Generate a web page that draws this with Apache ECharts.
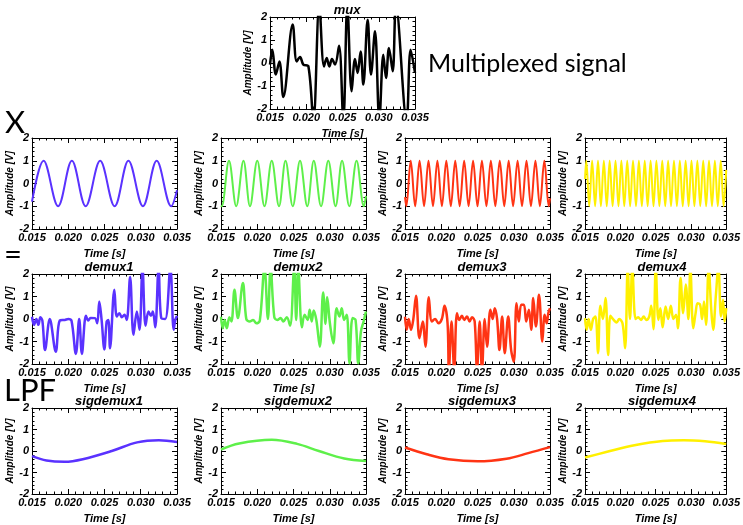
<!DOCTYPE html>
<html>
<head>
<meta charset="utf-8">
<script src="https://cdn.jsdelivr.net/npm/echarts@6/dist/echarts.min.js"></script>
<style>html,body{margin:0;background:#fff}#main{width:743px;height:525px}</style>
</head>
<body>
<div id="main"></div>
<script>
// --- data: [time (s), amplitude (V)] ---
var xTicks = ['0.015', '0.020', '0.025', '0.030', '0.035'];
var yTicks = ['-2', '-1', '0', '1', '2'];

var mux = [[0.015,-0.07],[0.01532,0.58],[0.0158,-0.5],[0.0163,0.07],[0.01684,-1.48],[0.01813,1.67],[0.01868,0.07],[0.01914,0.26],[0.0196,-0.07],[0.0203,-0.15],[0.02098,-2.5],[0.0218,2.5],[0.02245,-0.15],[0.02282,0.22],[0.02318,-0.15],[0.02355,0.17],[0.02397,-0.07],[0.02452,0.75],[0.02511,-2.5],[0.02567,2.5],[0.02626,-1.23],[0.02672,0.17],[0.02709,-0.43],[0.0275,0.5],[0.02787,-0.94],[0.02847,1.88],[0.02893,-0.5],[0.02948,1.38],[0.03008,-2.5],[0.03063,0.36],[0.031,-0.65],[0.03141,0.65],[0.03192,-0.36],[0.03238,2.5],[0.03384,-2.5],[0.0344,0.58],[0.035,-0.43]];

var car1 = [[0.015,-0.8],[0.0166,1],[0.0186,-1],[0.0205,1],[0.0224,-1],[0.0244,1],[0.0264,-1],[0.0283,1],[0.0303,-1],[0.0322,1],[0.0342,-1],[0.035,-0.3]];
var car2 = [[0.015,-0.97],[0.0151,-1],[0.0161,1],[0.0171,-1],[0.0181,1],[0.019,-1],[0.02,1],[0.021,-1],[0.022,1],[0.023,-1],[0.0239,1],[0.0249,-1],[0.0259,1],[0.0269,-1],[0.0278,1],[0.0288,-1],[0.0298,1],[0.0308,-1],[0.0317,1],[0.0327,-1],[0.0337,1],[0.0347,-1],[0.035,-0.55]];
var car3 = [[0.015,-0.6],[0.01518,-1],[0.01579,1],[0.0164,-1],[0.01701,1],[0.01763,-1],[0.01824,1],[0.01886,-1],[0.01947,1],[0.02009,-1],[0.0207,1],[0.02132,-1],[0.02193,1],[0.02254,-1],[0.02316,1],[0.02377,-1],[0.02439,1],[0.025,-1],[0.02561,1],[0.02623,-1],[0.02684,1],[0.02746,-1],[0.02807,1],[0.02869,-1],[0.0293,1],[0.02991,-1],[0.03053,1],[0.03114,-1],[0.03176,1],[0.03237,-1],[0.03299,1],[0.0336,-1],[0.03422,1],[0.03483,-1],[0.035,-0.65]];
var car4 = [[0.015,0.2],[0.01518,1],[0.0156,-1],[0.01601,1],[0.01643,-1],[0.01684,1],[0.01725,-1],[0.01767,1],[0.01808,-1],[0.01849,1],[0.01891,-1],[0.01932,1],[0.01974,-1],[0.02015,1],[0.02056,-1],[0.02098,1],[0.02139,-1],[0.0218,1],[0.02222,-1],[0.02263,1],[0.02305,-1],[0.02346,1],[0.02387,-1],[0.02429,1],[0.0247,-1],[0.02511,1],[0.02553,-1],[0.02594,1],[0.02636,-1],[0.02677,1],[0.02718,-1],[0.0276,1],[0.02801,-1],[0.02843,1],[0.02884,-1],[0.02925,1],[0.02967,-1],[0.03008,1],[0.03049,-1],[0.03091,1],[0.03132,-1],[0.03174,1],[0.03215,-1],[0.03256,1],[0.03298,-1],[0.03339,1],[0.0338,-1],[0.03422,1],[0.03463,-1],[0.035,0.6]];

var dem1 = [[0.015,0.1],[0.01528,-0.26],[0.0156,0],[0.01588,-0.26],[0.01615,0.08],[0.01643,-0.07],[0.0168,-1.38],[0.01745,0],[0.01828,-1.45],[0.01883,-0.07],[0.01953,-0.04],[0.02,0],[0.02045,-0.08],[0.02105,-1.55],[0.02151,0],[0.02188,-1.55],[0.02244,0.14],[0.02276,-0.07],[0.02308,0.05],[0.02368,0.04],[0.024,-0.19],[0.02428,0.78],[0.0246,-0.04],[0.02498,-1.35],[0.0253,-0.11],[0.02553,-0.04],[0.02576,-1.3],[0.02636,1.3],[0.02669,0.11],[0.02705,0.26],[0.02738,0.08],[0.02775,0.19],[0.02807,-0.04],[0.02853,1.87],[0.029,-0.7],[0.02946,0.33],[0.02983,-0.48],[0.03024,2.3],[0.03066,-0.3],[0.03107,0.33],[0.0314,0.14],[0.03167,0.33],[0.032,-0.37],[0.03246,2.3],[0.03283,0.04],[0.03338,0],[0.03408,2.3],[0.03454,-0.48],[0.03477,-0.04],[0.035,0.14]];
var dem2 = [[0.015,0.1],[0.01523,-0.41],[0.01551,-0.04],[0.0158,-0.41],[0.01616,0.08],[0.01644,-0.11],[0.01686,1.3],[0.01733,0.04],[0.01802,1.6],[0.01849,0],[0.01895,-0.11],[0.01942,-0.04],[0.01988,-0.19],[0.02035,-0.08],[0.021,2.3],[0.02147,0],[0.02184,2.3],[0.02235,0.08],[0.02277,-0.04],[0.02323,0.04],[0.0236,-0.11],[0.02407,0.08],[0.02453,-0.3],[0.02509,2.3],[0.02537,-0.04],[0.02565,2.3],[0.02616,-0.37],[0.02653,0.19],[0.02695,-0.04],[0.02723,0.41],[0.02751,-0.11],[0.02779,0.38],[0.02816,-0.07],[0.02863,-1.23],[0.02909,1.18],[0.02942,-0.22],[0.02965,0.97],[0.03002,-0.19],[0.03049,-1.08],[0.03095,0.48],[0.03133,0.11],[0.03165,0.48],[0.03198,-0.04],[0.03235,0.19],[0.03272,-1.97],[0.03314,0.04],[0.03356,-0.04],[0.03393,-1.97],[0.0343,-0.56],[0.03467,-0.11],[0.035,0.33]];
var dem3 = [[0.015,0.1],[0.01523,-0.48],[0.01551,0],[0.01583,-0.48],[0.01615,0],[0.01652,1.03],[0.01699,-0.85],[0.01745,-0.11],[0.01782,-1.23],[0.01828,0.97],[0.0187,-0.11],[0.01916,0],[0.01962,-0.19],[0.02008,0],[0.02045,0.59],[0.02087,-0.19],[0.02105,-2.3],[0.02142,-0.11],[0.02179,-2.3],[0.02216,0.26],[0.02248,-0.04],[0.02285,0.14],[0.02318,-0.04],[0.02355,0.11],[0.02391,-0.11],[0.02424,0.08],[0.02461,-0.11],[0.02493,-2.3],[0.0253,-0.11],[0.02562,-2.3],[0.02599,0],[0.02632,-1.23],[0.02678,0.41],[0.0271,0],[0.02738,0.48],[0.0277,0],[0.02803,-1.38],[0.0284,0.11],[0.02876,-1.52],[0.02923,0.11],[0.02964,-1.38],[0.03001,-1.9],[0.03038,0.7],[0.0307,-0.11],[0.03103,0.63],[0.0314,0.63],[0.03172,-0.11],[0.03209,0.41],[0.03241,-0.48],[0.03269,0.93],[0.03306,-0.33],[0.03348,1.08],[0.03394,-1.0],[0.03426,0.19],[0.03454,-0.19],[0.03477,0.26],[0.035,0.48]];
var dem4 = [[0.015,0.04],[0.01523,-0.48],[0.01551,0],[0.01583,-0.48],[0.01615,0],[0.01648,0.11],[0.01685,-1.52],[0.01717,0.59],[0.01754,0],[0.01791,0.93],[0.01828,-1.6],[0.0186,0.14],[0.01906,-0.04],[0.01948,-0.15],[0.01985,0],[0.02031,-0.19],[0.02068,-1.3],[0.02105,2.3],[0.02137,0],[0.0217,2.3],[0.02216,0],[0.02253,0.08],[0.02294,-0.04],[0.02331,0.11],[0.02368,-0.04],[0.0241,0.11],[0.02438,0.59],[0.0247,-0.45],[0.02502,2.3],[0.02539,-0.04],[0.02567,0.48],[0.02599,-0.37],[0.02641,0.56],[0.02678,0],[0.02715,0.59],[0.02752,0],[0.02789,0.19],[0.02816,-0.41],[0.02853,1.82],[0.0289,0.26],[0.02927,1.53],[0.02964,0],[0.02992,2.3],[0.03033,-0.41],[0.03066,0.26],[0.03094,0.7],[0.0313,0.63],[0.03158,0],[0.03186,0.78],[0.03214,-0.26],[0.03251,2.3],[0.03288,0.41],[0.03315,-0.48],[0.03352,1.0],[0.03389,2.3],[0.03426,0.11],[0.03454,0.86],[0.03477,-0.11],[0.035,0.48]];

var sig1 = [[0.015,-0.24],[0.017,-0.44],[0.0195,-0.5],[0.022,-0.38],[0.026,0],[0.0295,0.4],[0.0325,0.5],[0.035,0.42]];
var sig2 = [[0.015,0.07],[0.0175,0.35],[0.022,0.52],[0.0255,0.33],[0.0285,0],[0.032,-0.35],[0.035,-0.46]];
var sig3 = [[0.015,0.16],[0.018,-0.15],[0.021,-0.38],[0.025,-0.48],[0.029,-0.36],[0.032,-0.1],[0.035,0.18]];
var sig4 = [[0.015,-0.3],[0.018,-0.05],[0.022,0.27],[0.026,0.47],[0.029,0.5],[0.032,0.45],[0.035,0.33]];

var chart = echarts.init(document.getElementById('main'));

var F = '"Liberation Sans Narrow", "Liberation Sans", Arial, sans-serif';
var BIG = 'Lato, "Liberation Sans", sans-serif';
var lab = {fontFamily: F, fontSize: 11, fontWeight: 'bold', fontStyle: 'italic', color: '#000'};

var grids = [], xAxes = [], yAxes = [], series = [], titles = [];

function axisBase(g) {
    return {
        type: 'value', gridIndex: g,
        axisLine: {show: true, onZero: false, lineStyle: {color: '#000', width: 1}},
        axisTick: {show: true, inside: true, length: 5, lineStyle: {color: '#000'}},
        minorTick: {show: true, splitNumber: 5, length: 2.5, lineStyle: {color: '#000'}},
        splitLine: {show: false}
    };
}

function addPanel(left, top, height, name, data, color, lw) {
    var g = grids.length;
    grids.push({left: left, top: top, width: 145, height: height});
    var xb = axisBase(g);
    xb.position = 'bottom';
    xb.min = 0.015; xb.max = 0.035; xb.interval = 0.005;
    xb.axisLabel = Object.assign({}, lab, {margin: 3, formatter: function (v) { return v.toFixed(3); }});
    xb.name = 'Time [s]'; xb.nameLocation = 'middle'; xb.nameGap = 19;
    xb.nameTextStyle = lab;
    var xt = axisBase(g);
    xt.position = 'top'; xt.min = 0.015; xt.max = 0.035; xt.interval = 0.005;
    xt.axisLabel = {show: false};
    var yl = axisBase(g);
    yl.position = 'left'; yl.min = -2; yl.max = 2; yl.interval = 1;
    yl.axisLabel = Object.assign({}, lab, {margin: 3});
    yl.name = 'Amplitude [V]'; yl.nameLocation = 'middle'; yl.nameGap = 15;
    yl.nameTextStyle = Object.assign({}, lab, {fontSize: 10});
    var yr = axisBase(g);
    yr.position = 'right'; yr.min = -2; yr.max = 2; yr.interval = 1;
    yr.axisLabel = {show: false};
    xAxes.push(xb, xt);
    yAxes.push(yl, yr);
    series.push({
        type: 'line', xAxisIndex: 2 * g, yAxisIndex: 2 * g, data: data,
        showSymbol: false, smooth: 0.36, clip: true,
        lineStyle: {color: color, width: lw}
    });
    if (name) {
        titles.push({text: name, left: left + 72, top: top - 18, textAlign: 'center',
            textStyle: Object.assign({}, lab, {fontSize: 13})});
    }
}

var colLeft = [32, 221, 405, 585];
var blue = '#5a32ff', green = '#5ef04a', red = '#ff3414', yellow = '#fff000';

addPanel(270, 17, 92, 'mux', mux, '#000', 2.5);
[car1, car2, car3, car4].forEach(function (d, i) {
    addPanel(colLeft[i], 138, 91, '', d, [blue, green, red, yellow][i], 2);
});
[dem1, dem2, dem3, dem4].forEach(function (d, i) {
    addPanel(colLeft[i], 274, 90, 'demux' + (i + 1), d, [blue, green, red, yellow][i], 2.5);
});
[sig1, sig2, sig3, sig4].forEach(function (d, i) {
    addPanel(colLeft[i], 408, 89, 'sigdemux' + (i + 1), d, [blue, green, red, yellow][i], 2.5);
});

chart.setOption({
    animation: false,
    backgroundColor: '#fff',
    title: titles,
    grid: grids,
    xAxis: xAxes,
    yAxis: yAxes,
    series: series,
    graphic: [
        {type: 'text', left: 428, top: 51, style: {text: 'Multiplexed signal', font: '25px ' + BIG, fill: '#000'}},
        {type: 'text', left: 5, top: 107, style: {text: 'X', font: '31px ' + BIG, fill: '#000'}},
        {type: 'text', left: 4, top: 239, style: {text: '=', font: '31px ' + BIG, fill: '#000'}},
        {type: 'text', left: 4, top: 375, style: {text: 'LPF', font: '31px ' + BIG, fill: '#000'}}
    ]
});
</script>
</body>
</html>
